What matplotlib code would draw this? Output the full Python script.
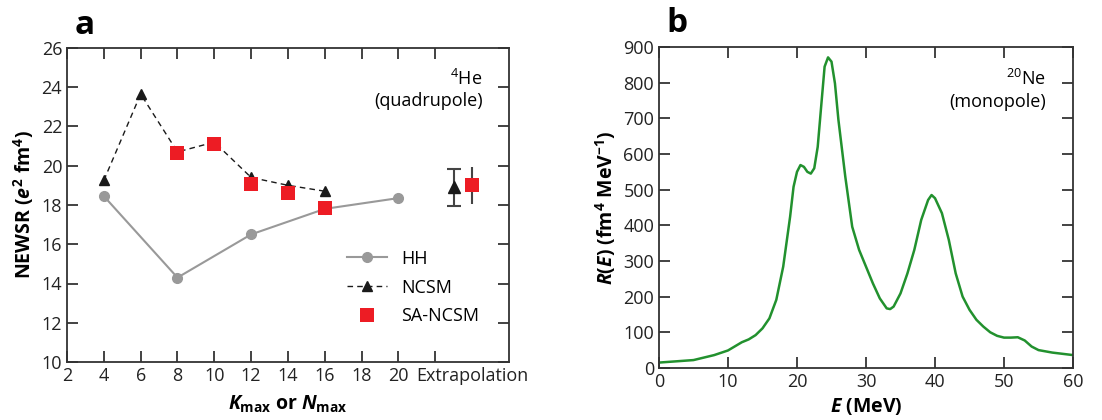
import matplotlib
matplotlib.use('Agg')
import matplotlib.pyplot as plt

plt.rcParams['font.family'] = ['Open Sans', 'DejaVu Sans']
plt.rcParams['mathtext.fontset'] = 'custom'
plt.rcParams['mathtext.rm'] = 'Open Sans:bold'
plt.rcParams['mathtext.it'] = 'Open Sans:italic:bold'
plt.rcParams['mathtext.bf'] = 'Open Sans:bold'

# panel a: NEWSR vs Kmax / Nmax
hh_x = [4, 8, 12, 16, 20]
hh_y = [18.45, 14.3, 16.5, 17.8, 18.35]
ncsm_x = [4, 6, 8, 10, 12, 14, 16]
ncsm_y = [19.25, 23.65, 20.7, 21.2, 19.4, 19.0, 18.7]
sa_x = [8, 10, 12, 14, 16]
sa_y = [20.65, 21.1, 19.05, 18.6, 17.85]
# extrapolated values (x position, value, error)
ext_ncsm = (23, 18.9, 0.95)
ext_sa = (24, 19.0, 0.95)

# panel b: 20Ne monopole response
E = [0, 5, 8, 10, 12, 13, 14, 15, 16, 17, 18, 19, 19.5, 20, 20.5, 21, 21.5, 22,
     22.5, 23, 23.5, 24, 24.5, 25, 25.5, 26, 27, 28, 29, 30, 31, 32, 33, 33.5,
     34, 35, 36, 37, 38, 39, 39.5, 40, 41, 42, 43, 44, 45, 46, 47, 48, 49, 50,
     51, 52, 53, 54, 55, 57, 60]
R = [15, 22, 36, 49, 72, 80, 92, 111, 139, 191, 284, 424, 508, 550, 569, 564,
     550, 545, 560, 620, 733, 845, 871, 859, 798, 696, 536, 396, 331, 284, 237,
     195, 167, 165, 172, 209, 265, 331, 415, 471, 485, 476, 434, 359, 265, 200,
     163, 135, 116, 100, 90, 85, 85, 86, 77, 60, 50, 43, 36]

fig = plt.figure(figsize=(11.02, 4.2), dpi=100)
ax1 = fig.add_axes([0.0608, 0.138, 0.401, 0.748])
ax2 = fig.add_axes([0.598, 0.124, 0.3757, 0.764])

grey = '#999999'
red = '#ed1c24'
green = '#22912e'

ax1.plot(hh_x, hh_y, '-o', color=grey, lw=1.5, ms=7, label='HH', zorder=2)
ax1.plot(ncsm_x, ncsm_y, '--^', color='#1a1a1a', lw=1, ms=7, label='NCSM',
         dashes=(4, 3), zorder=3)
ax1.plot(sa_x, sa_y, 's', color=red, ms=10, label='SA-NCSM', zorder=4, mew=0)
ax1.errorbar(ext_ncsm[0], ext_ncsm[1], yerr=ext_ncsm[2], fmt='^', color='#1a1a1a',
             ms=8, ecolor='#444444', capsize=5, capthick=1.5, elinewidth=1.5)
ax1.errorbar(ext_sa[0], ext_sa[1], yerr=ext_sa[2], fmt='s', color=red, mew=0,
             ms=10, ecolor='#444444', capsize=5, capthick=1.5, elinewidth=1.5)

ax1.set_xlim(2, 26)
ax1.set_ylim(10, 26)
ax1.set_xticks(range(2, 23, 2), [str(v) for v in range(2, 21, 2)] + [''])
ax1.set_xticks([24], ['Extrapolation'], minor=True)
ax1.set_yticks(range(10, 27, 2))
ax1.set_xlabel(r'$\mathit{K}_{\mathregular{max}}$ or $\mathit{N}_{\mathregular{max}}$',
               fontsize=14, fontweight='bold', labelpad=6)
ax1.set_ylabel(r'NEWSR ($\mathit{e}^{\mathregular{2}}$ fm$^{\mathregular{4}}$)',
               fontsize=14, fontweight='bold')
ax1.legend(loc='lower right', bbox_to_anchor=(0.97, 0.065), frameon=False,
           fontsize=13, handlelength=2.2, labelspacing=0.6)
ax1.text(0.94, 0.9, r'$^{\mathregular{4}}$He', transform=ax1.transAxes,
         ha='right', va='center', fontsize=13)
ax1.text(0.94, 0.83, '(quadrupole)', transform=ax1.transAxes,
         ha='right', va='center', fontsize=13)
fig.text(0.068, 0.94, 'a', fontsize=24, fontweight='bold', va='center')

ax2.plot(E, R, color=green, lw=1.8)
ax2.set_xlim(0, 60)
ax2.set_ylim(0, 900)
ax2.set_xticks(range(0, 61, 10))
ax2.set_yticks(range(0, 901, 100))
ax2.set_xlabel(r'$\mathit{E}$ (MeV)', fontsize=14, fontweight='bold', labelpad=4)
ax2.set_ylabel(r'$\mathit{R}\mathregular{(}\mathit{E}\mathregular{)}$ (fm$^{\mathregular{4}}$ MeV$^{\mathregular{-1}}$)',
               fontsize=14, fontweight='bold')
ax2.text(0.935, 0.9, r'$^{\mathregular{20}}$Ne', transform=ax2.transAxes,
         ha='right', va='center', fontsize=13)
ax2.text(0.935, 0.83, '(monopole)', transform=ax2.transAxes,
         ha='right', va='center', fontsize=13)
fig.text(0.605, 0.945, 'b', fontsize=24, fontweight='bold', va='center')

for ax in (ax1, ax2):
    ax.tick_params(which='both', direction='in', length=8, width=1.2,
                   top=True, right=True, labelsize=13, colors='#222222')
    for s in ax.spines.values():
        s.set_linewidth(1.3)
        s.set_color('#333333')
ax1.tick_params(axis='x', which='minor', length=0)

fig.savefig('out.png', dpi=100)
